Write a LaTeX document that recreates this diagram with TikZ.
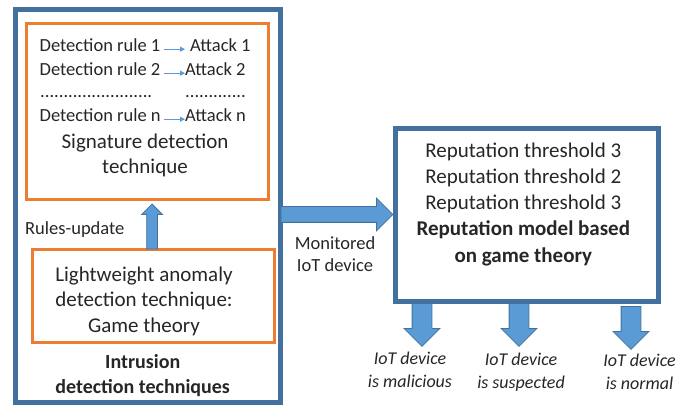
\documentclass[tikz,border=0pt]{standalone}
\usepackage{fontspec}
\setmainfont{Carlito}
\usepackage{tikz}
\usetikzlibrary{arrows,arrows.meta,positioning,shapes,calc}

\definecolor{boxblue}{HTML}{41719C}
\definecolor{arrblue}{HTML}{5B9BD5}
\definecolor{boxorange}{HTML}{ED7D31}

\begin{document}
\begin{tikzpicture}[x=1pt,y=-1pt,
    every node/.style={text=black!85},
    box/.style={rectangle,inner sep=0pt,outer sep=0pt,anchor=north west},
    bluebox/.style={box,draw=boxblue,line width=5pt},
    orangebox/.style={box,draw=boxorange,line width=3pt},
    blockarrow/.style={single arrow,draw=boxblue,fill=arrblue,line width=0.8pt,
        inner xsep=0pt,minimum width=0pt,single arrow head indent=0pt,anchor=tail},
    rulearrow/.style={draw=arrblue,line width=0.8pt,-{Triangle[length=5pt,width=5pt]}},
    ruletext/.style={inner sep=0pt,anchor=base west,font=\fontsize{18.5}{22}\selectfont},
    bigtext/.style={inner sep=0pt,align=center,font=\fontsize{21}{25.5}\selectfont},
    smalltext/.style={inner sep=0pt,align=center,font=\fontsize{18.5}{22}\selectfont},
    outcome/.style={inner sep=0pt,align=center,font=\fontsize{18}{23}\selectfont\itshape}]
    \useasboundingbox (0,0) rectangle (691,406);

    % Boxes
    \node[bluebox, minimum width=264.7pt, minimum height=393pt] (ids) at (15.8,9.5) {};
    \node[orangebox, minimum width=241.6pt, minimum height=176.7pt] (sig) at (26.7,23.3) {};
    \node[orangebox, minimum width=242.5pt, minimum height=93.3pt] (light) at (32.2,249.5) {};
    \node[bluebox, minimum width=263.5pt, minimum height=173pt] (rep) at (395,128.5) {};

    % Detection rules
    \foreach \i/\y/\ax/\gap in {1/51.7/190/5, 2/75.7/185/0, n/121.7/185/0} {
        \node[ruletext] (r\i) at (39.5,\y) {Detection rule \i};
        \node[ruletext] (a\i) at (\ax,\y) {Attack \i};
        \draw[rulearrow, shorten <=3pt, shorten >=\gap pt]
            ([yshift=2.5pt]r\i.base east) -- ([yshift=2.5pt]a\i.base west);
    }
    \node[ruletext] (dots1) at (40,98) {........................};
    \node[ruletext] (dots2) at (185,98) {.............};

    \node[bigtext] (sigtxt) at (145,155.3) {Signature detection\\technique};
    \node[bigtext] (lighttxt) at (144,301.1) {Lightweight anomaly\\detection technique:\\Game theory};
    \node[inner sep=0pt, align=center, font=\fontsize{20}{25}\selectfont\bfseries]
        (idstxt) at (142.7,375.7) {Intrusion\\detection techniques};
    \node[smalltext, anchor=base west] (upd) at (25,235) {Rules-update};

    % Block arrows
    \node[blockarrow, rotate=90, minimum height=45pt, inner ysep=5pt,
        single arrow head extend=5pt] (updarrow) at ([xshift=-1.4pt]light.north) {};
    \node[blockarrow, minimum height=112pt, inner ysep=7.5pt,
        single arrow head extend=8.5pt] (monarrow) at ([yshift=-8.5pt]ids.east) {};
    \node[smalltext] (montxt) at (335,254.6) {Monitored\\IoT device};

    % Reputation model
    \node[bigtext, font=\fontsize{21}{26.25}\selectfont] (reptxt) at (523.3,204)
        {Reputation threshold 3\\Reputation threshold 2\\Reputation threshold 3\\
         \textbf{Reputation model based}\\\textbf{on game theory}};

    % Outcomes
    \foreach \n/\dx/\gap/\lx/\ly/\lbl in {mal/-104.75/1.5/410/370.2/malicious,
        sus/-7.75/1.5/521/372/suspected, nor/104.25/4.5/639.5/372/normal} {
        \node[blockarrow, rotate=-90, minimum height=43pt, inner ysep=9.5pt,
            single arrow head extend=8pt] (\n arrow) at ([xshift=\dx pt, yshift=-\gap pt]rep.south) {};
        \node[outcome] (\n) at (\lx,\ly) {IoT device\\is \lbl};
    }
\end{tikzpicture}
\end{document}
